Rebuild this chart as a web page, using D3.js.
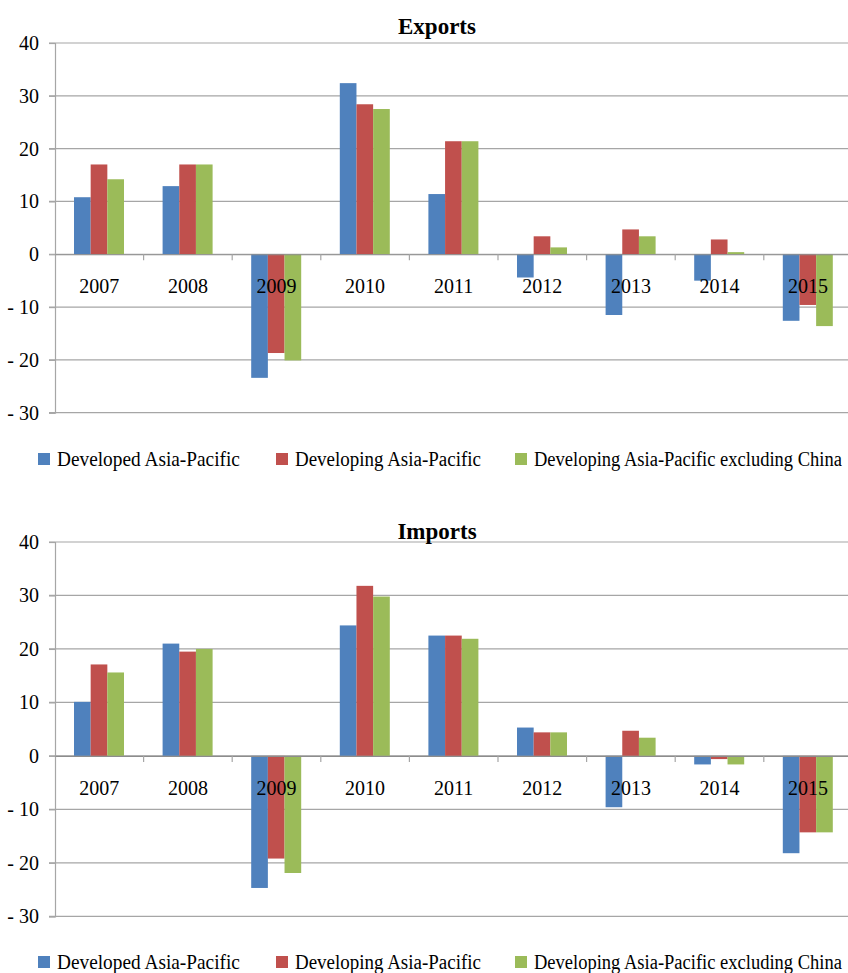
<!DOCTYPE html>
<html>
<head>
<meta charset="utf-8">
<script src="https://d3js.org/d3.v7.min.js"></script>
<style>
  body { margin: 0; background: #ffffff; }
  svg { display: block; }
</style>
</head>
<body>
<svg id="chart" width="848" height="973"></svg>
<script>

var years = ["2007", "2008", "2009", "2010", "2011", "2012", "2013", "2014", "2015"];
var seriesNames = ["Developed Asia-Pacific", "Developing Asia-Pacific", "Developing Asia-Pacific excluding China"];
var seriesColors = ["#4f81bd", "#c0504d", "#9bbb59"];
var yTicks = [-30, -20, -10, 0, 10, 20, 30, 40];

var exportsDeveloped  = [10.8, 12.9, -23.4, 32.4, 11.4, -4.4, -11.5, -5.0, -12.6];
var exportsDeveloping = [17.0, 17.0, -18.7, 28.4, 21.4, 3.4, 4.7, 2.8, -9.6];
var exportsExChina    = [14.2, 17.0, -20.1, 27.5, 21.4, 1.3, 3.4, 0.4, -13.6];

var importsDeveloped  = [10.1, 21.0, -24.7, 24.4, 22.5, 5.3, -9.6, -1.6, -18.2];
var importsDeveloping = [17.1, 19.5, -19.2, 31.8, 22.5, 4.4, 4.7, -0.6, -14.3];
var importsExChina    = [15.6, 20.0, -21.9, 29.8, 21.9, 4.4, 3.4, -1.6, -14.3];

var svg = d3.select("#chart");
var font = "Liberation Serif";
var gridColor = "#a6a6a6";

var x = d3.scaleBand().domain(years).range([55, 852.4]);
var x1 = d3.scaleBand().domain(seriesNames).range([19, 69]);

function drawPanel(title, seriesValues, top, bottom, titleY, legendY) {
  var y = d3.scaleLinear().domain([-30, 40]).range([bottom, top]);
  var g = svg.append("g");

  // gridlines
  g.selectAll(".grid")
    .data(yTicks)
    .enter().append("line")
      .attr("x1", 49).attr("x2", 848)
      .attr("y1", function(d) { return y(d); })
      .attr("y2", function(d) { return y(d); })
      .attr("stroke", gridColor)
      .attr("stroke-width", 1.2);

  // y axis (plain hyphen for negatives, like the original)
  var yAxis = g.append("g")
      .attr("transform", "translate(55,0)")
      .call(d3.axisLeft(y).tickValues(yTicks).tickSize(6).tickPadding(10)
        .tickFormat(function(d) { return d < 0 ? "- " + Math.abs(d) : String(d); }));
  yAxis.attr("font-family", font).attr("font-size", 20);
  yAxis.select(".domain").attr("stroke", gridColor).attr("stroke-width", 1.2);
  yAxis.selectAll(".tick line").attr("stroke", gridColor).attr("stroke-width", 1.2);
  yAxis.selectAll(".tick text").attr("fill", "#000").attr("xml:space", "preserve");

  // bars
  var rows = years.map(function(yr, i) {
    return seriesNames.map(function(s, k) { return {year: yr, series: s, value: seriesValues[k][i], color: seriesColors[k]}; });
  });
  g.selectAll(".group")
    .data(rows)
    .enter().append("g")
      .attr("transform", function(d) { return "translate(" + x(d[0].year) + ",0)"; })
    .selectAll("rect")
    .data(function(d) { return d; })
    .enter().append("rect")
      .attr("x", function(d) { return x1(d.series); })
      .attr("width", x1.bandwidth())
      .attr("y", function(d) { return y(Math.max(0, d.value)); })
      .attr("height", function(d) { return Math.abs(y(d.value) - y(0)); })
      .attr("fill", function(d) { return d.color; });

  // x axis at zero
  var xAxis = g.append("g")
      .attr("transform", "translate(0," + y(0) + ")")
      .call(d3.axisBottom(x).tickSize(0).tickPadding(24.8));
  xAxis.attr("font-family", font).attr("font-size", 20);
  xAxis.select(".domain").attr("stroke", "#8c8c8c").attr("stroke-width", 1.2);
  xAxis.selectAll(".tick text").attr("fill", "#000");

  g.selectAll(".xtick")
    .data(years.slice(1))
    .enter().append("line")
      .attr("x1", function(d) { return x(d); })
      .attr("x2", function(d) { return x(d); })
      .attr("y1", y(0)).attr("y2", y(0) + 6)
      .attr("stroke", gridColor)
      .attr("stroke-width", 1.2);

  // title
  g.append("text")
    .attr("x", 437).attr("y", titleY)
    .attr("text-anchor", "middle")
    .attr("font-family", font)
    .attr("font-weight", "bold")
    .attr("font-size", 23)
    .text(title);

  // legend (text squeezed horizontally to the widths seen in the picture)
  var legendX = [38, 276, 515];
  var legendW = [183, 186, 308];
  var leg = g.selectAll(".legend")
    .data(seriesNames)
    .enter().append("g")
      .attr("transform", function(d, i) { return "translate(" + legendX[i] + "," + legendY + ")"; });
  leg.append("rect")
    .attr("x", 0).attr("y", -12)
    .attr("width", 12).attr("height", 12)
    .attr("fill", function(d, i) { return seriesColors[i]; });
  leg.append("text")
    .attr("font-family", font)
    .attr("font-size", 20)
    .text(function(d) { return d; })
    .attr("transform", function(d, i) {
      var w = this.getComputedTextLength();
      return "translate(19,1) scale(" + (legendW[i] / w) + ",1)";
    });
}

drawPanel("Exports", [exportsDeveloped, exportsDeveloping, exportsExChina], 43, 412.7, 34, 465);
drawPanel("Imports", [importsDeveloped, importsDeveloping, importsExChina], 542, 916.3, 539, 968);

</script>
</body>
</html>
